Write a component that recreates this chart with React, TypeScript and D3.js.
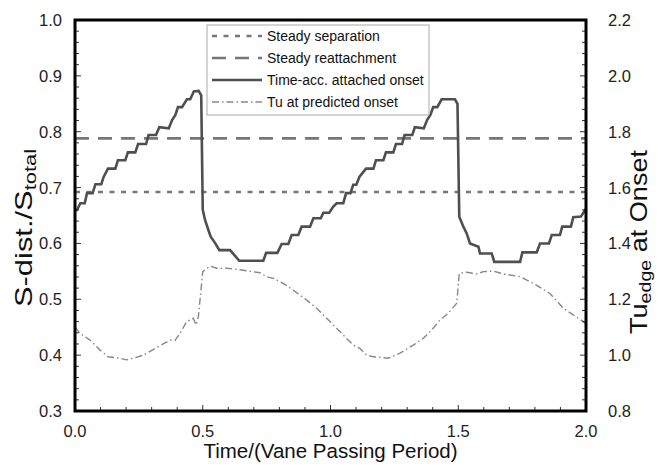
import React from 'react';
import * as d3 from 'd3';

// ---- data ----
const onsetTime = [
  0.000, 0.008, 0.021, 0.038, 0.047, 0.069, 0.080, 0.103, 0.112, 0.129, 0.158, 0.168, 0.197, 0.207, 0.236,
  0.247, 0.278, 0.288, 0.317, 0.330, 0.367, 0.380, 0.393, 0.403, 0.419, 0.438, 0.451, 0.465, 0.484, 0.494,
  0.500, 0.509, 0.522, 0.531, 0.548, 0.565, 0.607, 0.643, 0.737, 0.748, 0.792, 0.809, 0.835, 0.848, 0.874,
  0.887, 0.920, 0.933, 0.962, 0.972, 0.995, 1.011, 1.024, 1.050, 1.061, 1.078, 1.089, 1.101, 1.113, 1.139,
  1.168, 1.178, 1.207, 1.217, 1.246, 1.256, 1.280, 1.290, 1.320, 1.330, 1.365, 1.378, 1.391, 1.402, 1.418,
  1.435, 1.487, 1.497, 1.504, 1.520, 1.533, 1.546, 1.579, 1.585, 1.631, 1.641, 1.742, 1.751, 1.807, 1.820,
  1.855, 1.866, 1.898, 1.907, 1.941, 1.950, 1.980, 2.000,
];
const onsetValue = [
  0.660, 0.660, 0.672, 0.672, 0.690, 0.690, 0.706, 0.706, 0.719, 0.734, 0.734, 0.749, 0.749, 0.763, 0.763,
  0.778, 0.778, 0.794, 0.794, 0.808, 0.806, 0.821, 0.830, 0.844, 0.844, 0.858, 0.858, 0.872, 0.873, 0.865,
  0.660, 0.642, 0.624, 0.612, 0.601, 0.588, 0.588, 0.569, 0.569, 0.583, 0.583, 0.599, 0.599, 0.615, 0.615,
  0.630, 0.630, 0.645, 0.645, 0.655, 0.655, 0.666, 0.672, 0.672, 0.690, 0.690, 0.705, 0.705, 0.719, 0.734,
  0.734, 0.749, 0.749, 0.763, 0.763, 0.778, 0.778, 0.794, 0.794, 0.808, 0.806, 0.821, 0.830, 0.844, 0.844,
  0.858, 0.858, 0.850, 0.648, 0.630, 0.618, 0.600, 0.594, 0.582, 0.582, 0.567, 0.567, 0.584, 0.584, 0.600,
  0.600, 0.615, 0.615, 0.630, 0.630, 0.647, 0.648, 0.662,
];
const tuTime = [
  0.000, 0.020, 0.059, 0.072, 0.098, 0.130, 0.176, 0.202, 0.228, 0.267, 0.320, 0.372, 0.391, 0.411, 0.437,
  0.463, 0.474, 0.483, 0.500, 0.528, 0.555, 0.594, 0.633, 0.672, 0.724, 0.750, 0.776, 0.815, 0.854, 0.907,
  0.946, 0.985, 1.011, 1.050, 1.089, 1.115, 1.142, 1.168, 1.194, 1.226, 1.272, 1.324, 1.363, 1.396, 1.429,
  1.461, 1.494, 1.504, 1.533, 1.572, 1.598, 1.637, 1.676, 1.742, 1.794, 1.859, 1.911, 1.950, 1.990, 2.000,
];
const tuValue = [
  1.100, 1.078, 1.054, 1.042, 1.018, 0.994, 0.989, 0.983, 0.989, 1.000, 1.027, 1.054, 1.052, 1.078, 1.120,
  1.132, 1.108, 1.138, 1.299, 1.319, 1.311, 1.311, 1.307, 1.302, 1.295, 1.281, 1.275, 1.257, 1.233, 1.197,
  1.168, 1.132, 1.108, 1.072, 1.036, 1.024, 1.000, 0.994, 0.992, 0.989, 1.007, 1.036, 1.060, 1.090, 1.126,
  1.150, 1.186, 1.293, 1.297, 1.291, 1.299, 1.301, 1.291, 1.281, 1.257, 1.221, 1.168, 1.144, 1.120, 1.112,
];
const steadySeparation = 0.692;
const steadyReattachment = 0.788;

const xTickLabels = ['0.0', '0.5', '1.0', '1.5', '2.0'];
const leftTickLabels = ['0.3', '0.4', '0.5', '0.6', '0.7', '0.8', '0.9', '1.0'];
const rightTickLabels = ['0.8', '1.0', '1.2', '1.4', '1.6', '1.8', '2.0', '2.2'];
const legendLabels = ['Steady separation', 'Steady reattachment', 'Time-acc. attached onset', 'Tu at predicted onset'];

const FONT = '"Liberation Sans", Arial, sans-serif';

export default function App() {
  const W = 662, H = 468;
  const L = 75, R = 586, T = 20, B = 411;
  const x = d3.scaleLinear().domain([0, 2]).range([L, R]);
  const yL = d3.scaleLinear().domain([0.3, 1.0]).range([B, T]);
  const yR = d3.scaleLinear().domain([0.8, 2.2]).range([B, T]);

  const onsetPts: [number, number][] = onsetTime.map((t, i) => [t, onsetValue[i]]);
  const tuPts: [number, number][] = tuTime.map((t, i) => [t, tuValue[i]]);
  const lineL = d3.line<[number, number]>().x(d => x(d[0])).y(d => yL(d[1]));
  const lineR = d3.line<[number, number]>().x(d => x(d[0])).y(d => yR(d[1]));

  const leftMinor = d3.range(0, 36).map(i => 0.3 + i * 0.02);
  const rightMinor = d3.range(0, 36).map(i => 0.8 + i * 0.04);
  const bottomMinor = d3.range(0, 21).map(i => i * 0.1);

  const styles = [
    { stroke: '#777', width: 2.6, dash: '5,6.5' },
    { stroke: '#777', width: 2.6, dash: '14,9' },
    { stroke: '#4f4f4f', width: 2.6, dash: '' },
    { stroke: '#888', width: 1.4, dash: '7,3,1.5,3' },
  ];

  return (
    <svg width={W} height={H} style={{ position: 'absolute', left: 0, top: 0, background: '#fff' }} fontFamily={FONT}>
      <defs>
        <clipPath id="plot"><rect x={L} y={T} width={R - L} height={B - T} /></clipPath>
      </defs>
      <rect x={0} y={0} width={W} height={H} fill="#fff" />
      <g clipPath="url(#plot)">
        <line x1={L} x2={R} y1={yL(steadySeparation)} y2={yL(steadySeparation)} stroke={styles[0].stroke} strokeWidth={styles[0].width} strokeDasharray={styles[0].dash} />
        <line x1={L} x2={R} y1={yL(steadyReattachment)} y2={yL(steadyReattachment)} stroke={styles[1].stroke} strokeWidth={styles[1].width} strokeDasharray={styles[1].dash} />
        <path d={lineL(onsetPts) || ''} fill="none" stroke={styles[2].stroke} strokeWidth={styles[2].width} strokeLinejoin="miter" />
        <path d={lineR(tuPts) || ''} fill="none" stroke={styles[3].stroke} strokeWidth={styles[3].width} strokeDasharray={styles[3].dash} />
      </g>
      {/* ticks */}
      {leftMinor.map((v, i) => (
        <line key={'lm' + i} x1={L} x2={L + (i % 5 === 0 ? 6 : 4)} y1={yL(v)} y2={yL(v)} stroke="#333" strokeWidth={1} />
      ))}
      {rightMinor.map((v, i) => (
        <line key={'rm' + i} x1={R} x2={R - (i % 5 === 0 ? 6 : 4)} y1={yR(v)} y2={yR(v)} stroke="#333" strokeWidth={1} />
      ))}
      {bottomMinor.map((v, i) => (
        <line key={'bm' + i} x1={x(v)} x2={x(v)} y1={B} y2={B - (i % 5 === 0 ? 6 : 4)} stroke="#333" strokeWidth={1} />
      ))}
      <rect x={L} y={T} width={R - L} height={B - T} fill="none" stroke="#000" strokeWidth={3} />
      {/* tick labels */}
      {leftTickLabels.map(s => (
        <text key={'l' + s} x={L - 13} y={yL(+s) + 6} textAnchor="end" fontSize={16.5} fill="#222">{s}</text>
      ))}
      {rightTickLabels.map(s => (
        <text key={'r' + s} x={R + 22} y={yR(+s) + 6} textAnchor="start" fontSize={16.5} fill="#222">{s}</text>
      ))}
      {xTickLabels.map(s => (
        <text key={'x' + s} x={x(+s)} y={437} textAnchor="middle" fontSize={16.5} fill="#222">{s}</text>
      ))}
      {/* axis titles */}
      <text x={(L + R) / 2} y={458} textAnchor="middle" fontSize={20.5} fill="#111">Time/(Vane Passing Period)</text>
      <text transform={`translate(32, 228) rotate(-90)`} textAnchor="middle" fontSize={24} fill="#111" textLength={158} lengthAdjust="spacingAndGlyphs">
        S-dist./S<tspan fontSize={17} dy={4}>total</tspan>
      </text>
      <text transform={`translate(647, 242) rotate(-90)`} textAnchor="middle" fontSize={23.5} fill="#111" textLength={184} lengthAdjust="spacingAndGlyphs">
        Tu<tspan fontSize={17} dy={4}>edge</tspan><tspan dy={-4}> at Onset</tspan>
      </text>
      {/* legend */}
      <rect x={207} y={25} width={222} height={90} fill="#fff" stroke="#aaa" strokeWidth={1} />
      {legendLabels.map((s, i) => {
        const ly = 36 + i * 22;
        const st = styles[i];
        return (
          <g key={'lg' + i}>
            <line x1={212} x2={262} y1={ly} y2={ly} stroke={st.stroke} strokeWidth={st.width} strokeDasharray={st.dash} />
            <text x={267} y={ly + 5} fontSize={14} fill="#111">{s}</text>
          </g>
        );
      })}
    </svg>
  );
}
